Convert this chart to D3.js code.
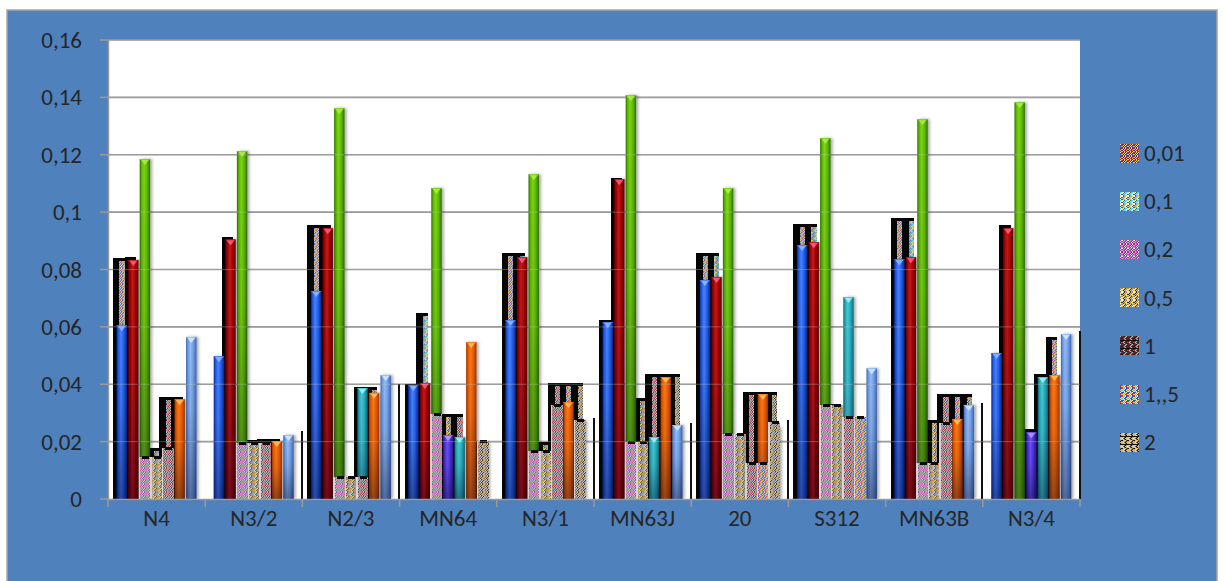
<!DOCTYPE html>
<html><head><meta charset="utf-8">
<script src="https://cdn.jsdelivr.net/npm/d3@7"></script>
<style>
html,body{margin:0;padding:0;background:#fff;}
svg{display:block;}
text{font-family:Carlito, Lato, "Open Sans", sans-serif;fill:#262626;}
</style></head><body>
<svg id="chart" width="1226" height="581"></svg>
<script>
// Sample categories along the x axis
const categories = ["N4","N3/2","N2/3","MN64","N3/1","MN63J","20","S312","MN63B","N3/4"];
const legendLabels = ["0,01","0,1","0,2","0,5","1","1,,5","2"];
const yTicks = [0,0.02,0.04,0.06,0.08,0.1,0.12,0.14,0.16];
const yTickLabels = ["0","0,02","0,04","0,06","0,08","0,1","0,12","0,14","0,16"];

// Solid (glossy) series, one value per category
const glossBlue   = [0.0606,0.0498,0.0725,0.0397,0.0624,0.0617,0.0763,0.0885,0.0836,0.0509];
const glossRed    = [0.0833,0.0905,0.0944,0.0404,0.0843,0.1115,0.0774,0.0895,0.0843,0.0944];
const glossGreen  = [0.1185,0.1213,0.1362,0.1084,0.1132,0.1408,0.1084,0.1258,0.1324,0.1383];
const glossPurple = [0.0120,0.0170,0.0060,0.0223,0.0164,0.0180,0.0200,0.0300,0.0120,0.0233];
const glossTeal   = [0.0140,0.0180,0.0387,0.0216,0.0300,0.0216,0.0120,0.0704,0.0240,0.0425];
const glossOrange = [0.0348,0.0202,0.0370,0.0547,0.0338,0.0425,0.0366,0.0260,0.0279,0.0432];
const glossLight  = [0.0565,0.0223,0.0432,0.0195,0.0275,0.0258,0.0250,0.0456,0.0328,0.0575];

// Shadowed hatched bars sitting behind the solid bars
const backA = [0.0840,0,0.0955,0.0400,0.0857,0.0625,0.0857,0.0958,0.0979,0];
const backB = [0.0845,0.0915,0.0955,0.0650,0.0857,0.1120,0.0857,0.0958,0.0979,0.0955];
const backC = [0,0,0,0,0,0,0,0,0,0];
const backD = [0.0178,0.0205,0.0075,0.0296,0.0199,0.0352,0.0226,0.0332,0.0275,0.0244];
const backE = [0.0355,0.0208,0.0390,0.0296,0.0404,0.0435,0.0373,0,0.0366,0.0436];
const backF = [0.0355,0.0210,0.0390,0,0.0404,0.0435,0.0373,0.0286,0.0366,0.0565];
const backG = [0,0,0,0.0202,0.0404,0.0435,0.0373,0,0.0366,0];

// Low hatched bars drawn over the solid bars
const frontA = [0,0,0,0,0,0,0,0,0,0];
const frontB = [0,0,0,0,0,0,0,0,0,0];
const frontC = [0.0146,0.0195,0.0077,0.0296,0.0167,0.0199,0.0226,0.0328,0.0125,0];
const frontD = [0.0146,0.0195,0.0077,0,0.0167,0.0199,0.0226,0.0328,0.0125,0];
const frontE = [0.0178,0.0195,0.0077,0,0.0328,0,0.0125,0.0286,0.0265,0];
const frontF = [0,0,0,0,0,0,0.0125,0.0286,0,0];
const frontG = [0,0,0,0.0202,0.0275,0,0.0268,0,0,0];

// Thin bar at the right edge of each category
const edgeBar = [0,0.0236,0.0400,0,0.0282,0.0265,0.0275,0,0.0335,0.0585];

const glossSeries = [glossBlue,glossRed,glossGreen,glossPurple,glossTeal,glossOrange,glossLight];
const backSeries  = [backA,backB,backC,backD,backE,backF,backG];
const frontSeries = [frontA,frontB,frontC,frontD,frontE,frontF,frontG];

const glossColors = [
  {base:"#1f5ce8", light:"#4a82ff", dark:"#0a2890", cap:"#8fb8ff"},
  {base:"#a20000", light:"#c21a1a", dark:"#560000", cap:"#ff5a86"},
  {base:"#5cb800", light:"#7cd614", dark:"#2e6c00", cap:"#a8ec50"},
  {base:"#4b2fd8", light:"#6c52f4", dark:"#28148c", cap:"#b29cff"},
  {base:"#25a8b8", light:"#46cad8", dark:"#0f6674", cap:"#a0f4f8"},
  {base:"#e65a00", light:"#ff7a14", dark:"#9c3800", cap:"#ffc060"},
  {base:"#6c9ce6", light:"#94bcf6", dark:"#3a62ae", cap:"#d4e8ff"}
];
// Legend swatch fills
const hatchPalettes = [
  ["#b03030","#3048b8","#e0c040","#7a1818","#d8d8d8"],
  ["#40d8e0","#e8e840","#ffffff","#3060c0","#b8b8b8"],
  ["#e040e0","#7c30c0","#f4f4f4","#c02080","#b0b0b0"],
  ["#d8c840","#303030","#b4b4b4","#c08030","#efefef"],
  ["#801010","#202020","#c84060","#b0b0b0","#603030"],
  ["#3040d0","#e03030","#f0e040","#40d0e0","#e8e8e8"],
  ["#806040","#1a1a1a","#b0b0b0","#e0c060","#d8d8d8"]
];
// Greyer fills used on the bars themselves
const barPalettes = [
  ["#9c9c9c","#d06070","#c8c8c8","#5870d0","#a8a8a8","#d8c050"],
  ["#a0a0a0","#50c0c8","#cacaca","#d0c840","#9a9a9a","#6080d0"],
  ["#9e9e9e","#d060b0","#c6c6c6","#7860d0","#a4a4a4","#e08090"],
  ["#a2a2a2","#c8b040","#cccccc","#606060","#9c9c9c","#c08850"],
  ["#989898","#b04050","#c4c4c4","#505050","#a6a6a6","#d07090"],
  ["#a0a0a0","#5068d8","#c8c8c8","#d85050","#9e9e9e","#d8c848"],
  ["#9a9a9a","#907050","#c6c6c6","#404040","#a8a8a8","#d0b060"]
];

const svg = d3.select("#chart");
const defs = svg.append("defs");
const zig = [0,1,2,1];

function makePattern(id, pal, p, withLine) {
  const pat = defs.append("pattern").attr("id",id)
    .attr("patternUnits","userSpaceOnUse").attr("width",6).attr("height",8);
  for (let i=0;i<6;i++) for (let j=0;j<8;j++) {
    pat.append("rect").attr("x",i).attr("y",j).attr("width",1).attr("height",1)
      .attr("fill", pal[(i + zig[j%4] + p + (j>>2)) % pal.length]);
  }
  if (withLine) pat.append("rect").attr("x",0).attr("y",4).attr("width",6).attr("height",1).attr("fill","#111");
}
hatchPalettes.forEach((pal,p) => makePattern("hatch"+p, pal, p, p===4 || p===6));
barPalettes.forEach((pal,p) => makePattern("barhatch"+p, pal, p, false));

// Cylinder-like shading for the solid bars
glossColors.forEach((c,k) => {
  const g = defs.append("linearGradient").attr("id","gloss"+k).attr("x1",0).attr("x2",1).attr("y1",0).attr("y2",0);
  [[0,c.dark],[0.18,c.base],[0.42,c.light],[0.72,c.base],[1,c.dark]].forEach(([o,col]) =>
    g.append("stop").attr("offset",o).attr("stop-color",col));
});
const vs = defs.append("linearGradient").attr("id","vshade").attr("x1",0).attr("x2",0).attr("y1",0).attr("y2",1);
vs.append("stop").attr("offset",0).attr("stop-color","#000020").attr("stop-opacity",0);
vs.append("stop").attr("offset",0.45).attr("stop-color","#000020").attr("stop-opacity",0.08);
vs.append("stop").attr("offset",1).attr("stop-color","#000020").attr("stop-opacity",0.42);
const sh = defs.append("filter").attr("id","soft").attr("x","-50%").attr("width","200%");
sh.append("feDropShadow").attr("dx",2).attr("dy",0).attr("stdDeviation",1.4)
  .attr("flood-color","#000").attr("flood-opacity",0.35);

// Outer frame
svg.append("rect").attr("x",7).attr("y",10).attr("width",1210).attr("height",580)
  .attr("fill","#4f81bd").attr("stroke","#a6a6a6").attr("stroke-width",1.5);

const x0 = d3.scaleBand().domain(categories).range([108,1080]).paddingInner(0.165).paddingOuter(0.0825);
const x1 = d3.scaleBand().domain(d3.range(7)).range([0,x0.bandwidth()]);
const y = d3.scaleLinear().domain([0,0.16]).range([499,40]);
const step = x0.step();
const slotW = x1.bandwidth();

// Plot area
svg.append("rect").attr("x",108).attr("y",40).attr("width",972).attr("height",459).attr("fill","#ffffff");

// Grid lines
const grid = svg.append("g").attr("stroke","#8e8e8e").attr("stroke-width",1.6);
yTicks.slice(1).forEach(t => grid.append("line").attr("x1",108).attr("x2",1080).attr("y1",y(t)).attr("y2",y(t)));

const bars = svg.append("g").attr("shape-rendering","crispEdges");

// Backing hatched bars with black shadow
backSeries.forEach((arr,s) => {
  arr.forEach((v,i) => {
    if (!v) return;
    const bx = x0(categories[i]) + x1(s) - 3;
    const top = y(v), h = y(0) - top;
    bars.append("rect").attr("x",bx).attr("y",top).attr("width",slotW).attr("height",h).attr("fill","#050505");
    bars.append("rect").attr("x",bx + slotW*0.55).attr("y",top+3).attr("width",slotW*0.45).attr("height",Math.max(0,h-3))
      .attr("fill","url(#barhatch"+s+")");
  });
});

// Thin edge bars
edgeBar.forEach((v,i) => {
  if (!v) return;
  bars.append("rect").attr("x",x0(categories[i]) + x0.bandwidth() + (step - x0.bandwidth())/2 - 1.5)
    .attr("y",y(v)).attr("width",2).attr("height",y(0)-y(v)).attr("fill","#111");
});

// Solid glossy bars
const gl = svg.append("g");
glossSeries.forEach((arr,s) => {
  const c = glossColors[s];
  arr.forEach((v,i) => {
    if (!v) return;
    const bx = x0(categories[i]) + x1(s) + 0.5;
    const w = slotW - 1.2;
    const top = y(v), h = y(0) - top;
    const g = gl.append("g");
    g.append("rect").attr("x",bx).attr("y",top).attr("width",w).attr("height",h)
      .attr("fill","url(#gloss"+s+")").attr("filter","url(#soft)");
    g.append("rect").attr("x",bx).attr("y",top).attr("width",w).attr("height",h).attr("fill","url(#vshade)");
    g.append("path").attr("d",`M${bx+1},${top+0.5}L${bx+w-1},${top+0.5}L${bx+w/2},${top+Math.min(6,h)}Z`)
      .attr("fill",c.cap).attr("opacity",0.9);
    g.append("rect").attr("x",bx).attr("y",top).attr("width",w).attr("height",1).attr("fill",c.light).attr("opacity",0.7);
  });
});

// Low hatched bars in front
const fr = svg.append("g").attr("shape-rendering","crispEdges");
frontSeries.forEach((arr,s) => {
  arr.forEach((v,i) => {
    if (!v) return;
    const bx = x0(categories[i]) + x1(s) - 0.5;
    const top = y(v), h = y(0) - top;
    fr.append("rect").attr("x",bx).attr("y",top).attr("width",slotW+0.5).attr("height",h).attr("fill","url(#barhatch"+s+")");
    fr.append("rect").attr("x",bx).attr("y",top).attr("width",1.5).attr("height",h).attr("fill","#d4d4d4");
    fr.append("rect").attr("x",bx+slotW*0.3).attr("y",top-1).attr("width",slotW*0.6).attr("height",3).attr("fill","#0a0a0a");
  });
});

// Faint grid showing through the bars
const grid2 = svg.append("g").attr("stroke","#c8c8c8").attr("stroke-width",1).attr("opacity",0.35);
yTicks.slice(1).forEach(t => grid2.append("line").attr("x1",108).attr("x2",1080).attr("y1",y(t)).attr("y2",y(t)));

// Axes
const axisCol = "#9a9a9a";
svg.append("line").attr("x1",108.5).attr("x2",108.5).attr("y1",40).attr("y2",499).attr("stroke",axisCol).attr("stroke-width",1.5);
svg.append("line").attr("x1",108).attr("x2",1080).attr("y1",499.5).attr("y2",499.5).attr("stroke",axisCol).attr("stroke-width",1.5);
yTicks.forEach((t,k) => {
  svg.append("line").attr("x1",100).attr("x2",108).attr("y1",y(t)).attr("y2",y(t)).attr("stroke",axisCol).attr("stroke-width",1.5);
  svg.append("text").attr("x",82).attr("y",y(t)).attr("text-anchor","end").attr("dominant-baseline","central")
    .attr("font-size",23).text(yTickLabels[k]);
});
d3.range(categories.length+1).forEach(k => {
  const tx = 108 + k*step;
  svg.append("line").attr("x1",tx).attr("x2",tx).attr("y1",499).attr("y2",507).attr("stroke",axisCol).attr("stroke-width",1.5);
});
categories.forEach(c => {
  svg.append("text").attr("x",x0(c)+x0.bandwidth()/2).attr("y",518).attr("text-anchor","middle")
    .attr("dominant-baseline","central").attr("font-size",23).text(c);
});

// Legend
const lg = svg.append("g");
legendLabels.forEach((lab,k) => {
  const cy = 153 + k*48.2;
  lg.append("rect").attr("x",1120).attr("y",cy-9.5).attr("width",19).attr("height",19)
    .attr("fill","url(#hatch"+k+")").attr("shape-rendering","crispEdges");
  lg.append("text").attr("x",1144).attr("y",cy).attr("dominant-baseline","central").attr("font-size",23).text(lab);
});
</script>
</body></html>
